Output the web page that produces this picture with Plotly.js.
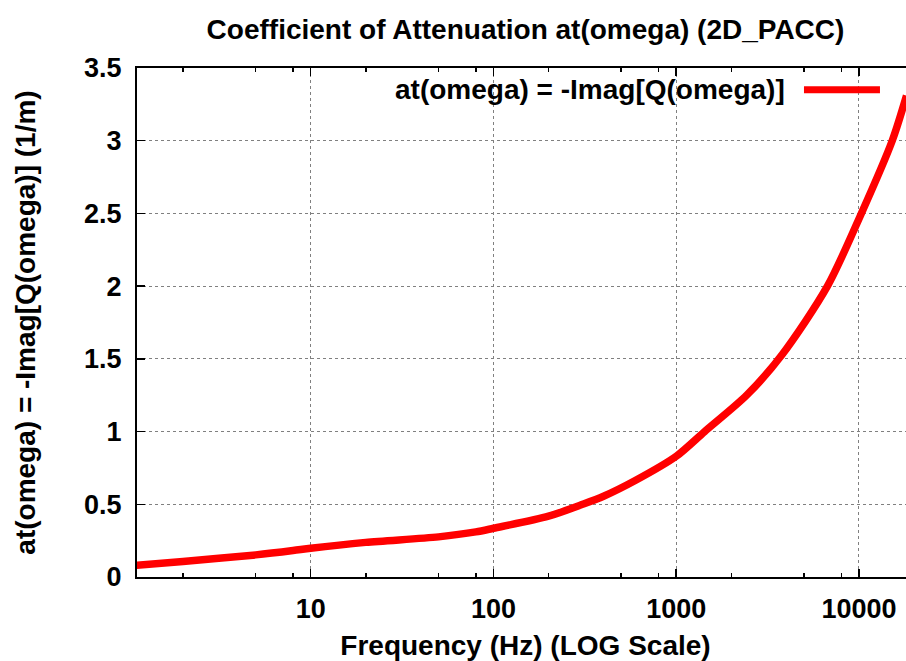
<!DOCTYPE html>
<html>
<head>
<meta charset="utf-8">
<script src="https://cdn.plot.ly/plotly-3.0.1.min.js"></script>
<style>
html, body { margin: 0; padding: 0; overflow: hidden; background: #fff; }
#chart { width: 914px; height: 661px; }
</style>
</head>
<body>
<div id="chart"></div>
<script>
// Data
const frequencyHz = [1.117, 2, 5, 8, 10, 20, 50, 80, 100, 200, 300, 400, 600, 1000, 1430, 2430, 3800, 6720, 10300, 15200, 18200];
const attenuation = [0.081, 0.107, 0.152, 0.182, 0.198, 0.238, 0.276, 0.31, 0.335, 0.418, 0.495, 0.555, 0.665, 0.83, 1.0, 1.25, 1.53, 2.0, 2.5, 3.0, 3.31];
const xMajorTicks = [10, 100, 1000, 10000];
const xMajorLabels = ["10", "100", "1000", "10000"];
const xMinorTicks = [2, 5, 8, 20, 50, 80, 200, 500, 800, 2000, 5000, 8000];
const yTicks = [0, 0.5, 1, 1.5, 2, 2.5, 3, 3.5];
const yLabels = ["0", "0.5", "1", "1.5", "2", "2.5", "3", "3.5"];
const seriesName = "at(omega) = -Imag[Q(omega)]";

const FONT = "Liberation Sans, Arial, Helvetica, sans-serif";

const trace = {
  x: frequencyHz,
  y: attenuation,
  type: "scatter",
  mode: "lines",
  name: seriesName,
  line: { color: "#ff0000", width: 7.5, shape: "spline", smoothing: 0.8 },
  showlegend: false
};

const layout = {
  width: 914,
  height: 661,
  margin: { l: 137, r: 0, t: 68, b: 84 },
  paper_bgcolor: "#ffffff",
  plot_bgcolor: "#ffffff",
  font: { family: FONT, color: "#000", size: 27, weight: "bold" },
  title: {
    text: "Coefficient of Attenuation at(omega) (2D_PACC)",
    font: { family: FONT, size: 28, weight: "bold", color: "#000" },
    x: 0.5, xref: "paper", xanchor: "center",
    y: 0.956, yref: "container", yanchor: "middle"
  },
  xaxis: {
    type: "log",
    range: [0.0493, 4.301],
    tickmode: "array",
    tickvals: xMajorTicks,
    ticktext: xMajorLabels,
    ticks: "inside",
    ticklen: 8,
    tickwidth: 1.5,
    tickcolor: "#000",
    showline: true,
    linecolor: "#000",
    linewidth: 2,
    mirror: "allticks",
    showgrid: true,
    gridcolor: "#808080",
    griddash: "dot",
    gridwidth: 1,
    zeroline: false,
    tickfont: { family: FONT, size: 27, weight: "bold", color: "#000" },
    ticklabelstandoff: 7,
    minor: {
      tickmode: "array",
      tickvals: xMinorTicks,
      ticks: "inside",
      ticklen: 4,
      tickwidth: 1.5,
      tickcolor: "#000",
      showgrid: false
    },
    title: {
      text: "Frequency (Hz) (LOG Scale)",
      font: { family: FONT, size: 28, weight: "bold", color: "#000" },
      standoff: 17
    },
    automargin: false
  },
  yaxis: {
    range: [0, 3.5],
    tickmode: "array",
    tickvals: yTicks,
    ticktext: yLabels,
    ticks: "inside",
    ticklen: 8,
    tickwidth: 1.5,
    tickcolor: "#000",
    showline: true,
    linecolor: "#000",
    linewidth: 2,
    mirror: "allticks",
    showgrid: true,
    gridcolor: "#808080",
    griddash: "dot",
    gridwidth: 1,
    zeroline: false,
    tickfont: { family: FONT, size: 27, weight: "bold", color: "#000" },
    ticklabelstandoff: 8,
    title: {
      text: "at(omega) = -Imag[Q(omega)] (1/m)",
      font: { family: FONT, size: 28, weight: "bold", color: "#000" },
      standoff: 40
    },
    automargin: false
  },
  annotations: [{
    text: seriesName,
    xref: "paper", yref: "paper",
    x: 0.8365, y: 0.9574,
    xanchor: "right", yanchor: "middle",
    showarrow: false,
    font: { family: FONT, size: 28, weight: "bold", color: "#000" }
  }],
  shapes: [{
    type: "line",
    xref: "paper", yref: "paper",
    x0: 0.8584, x1: 0.9562, y0: 0.9574, y1: 0.9574,
    line: { color: "#ff0000", width: 7 }
  }]
};

Plotly.newPlot("chart", [trace], layout, { staticPlot: true, displayModeBar: false });
</script>
</body>
</html>
